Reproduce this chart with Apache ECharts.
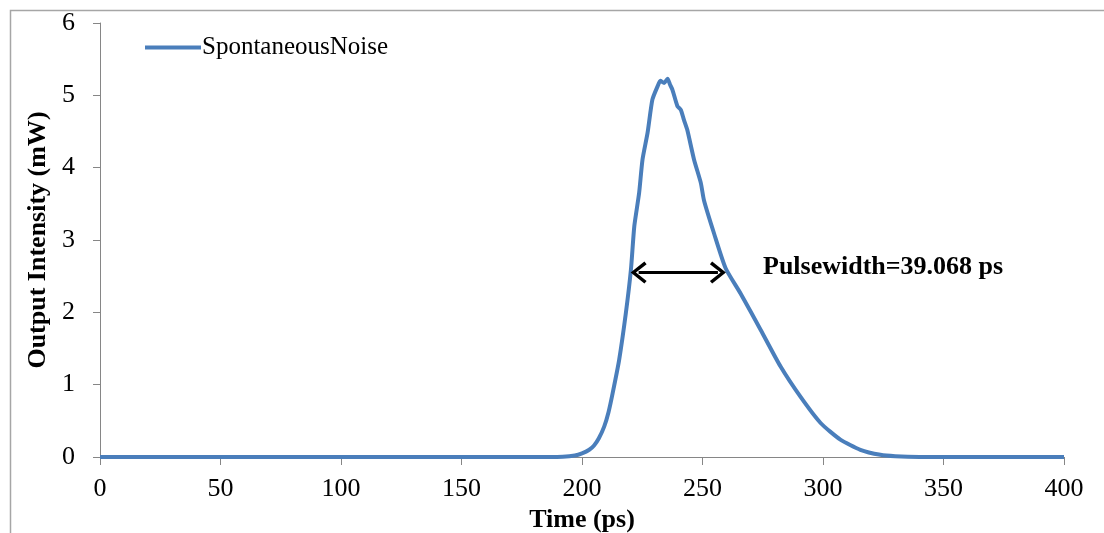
<!DOCTYPE html>
<html>
<head>
<meta charset="utf-8">
<script src="https://cdn.jsdelivr.net/npm/echarts@6/dist/echarts.min.js"></script>
<style>
html,body{margin:0;padding:0;background:#fff;}
#chart{width:1104px;height:533px;}
</style>
</head>
<body>
<div id="chart"></div>
<script>
// Data
const seriesName = 'SpontaneousNoise';
const timePs = [0, 50, 100, 150, 180, 192, 197, 200, 203, 205, 207, 209.2, 211, 212.7, 215.4, 218.2, 220.3, 221.7, 223.7, 225.1, 227.2, 229.2, 231.3, 232.5, 234.1, 235.5, 236.5, 237.5, 239.6, 241, 242.3, 243.7, 246.5, 249.3, 250.6, 254.8, 259.6, 265.8, 274.1, 282.4, 290.7, 299, 307.2, 315.5, 323.8, 330, 340, 350, 375, 400];
const intensity = [0, 0, 0, 0, 0, 0.005, 0.02, 0.05, 0.1, 0.16, 0.26, 0.42, 0.62, 0.88, 1.34, 1.99, 2.59, 3.19, 3.65, 4.11, 4.48, 4.94, 5.12, 5.2, 5.17, 5.23, 5.15, 5.08, 4.85, 4.8, 4.66, 4.52, 4.11, 3.79, 3.55, 3.09, 2.61, 2.26, 1.76, 1.25, 0.83, 0.47, 0.24, 0.1, 0.03, 0.01, 0, 0, 0, 0];
const pulseStart = 220.3, pulseEnd = 259.6, pulseLevel = 2.55;
const pulseText = 'Pulsewidth=39.068 ps';
const xTicks = {min: 0, max: 400, interval: 50};
const yTicks = {min: 0, max: 6, interval: 1};

const arrowInset = 3.2; // half arrow-head length, in ps, so tips touch the curve
const chevron = 'path://M50,0 L100,62 L88,72 L50,24 L12,72 L0,62 Z';
const serif = '"Liberation Serif", "Times New Roman", serif';
const axisGrey = '#868686';

const chart = echarts.init(document.getElementById('chart'));
chart.setOption({
  animation: false,
  backgroundColor: '#fff',
  grid: {left: 100, right: 40, top: 23, bottom: 76, containLabel: false, outerBoundsMode: 'none'},
  legend: {
    left: 145, top: 35, padding: 0,
    icon: 'rect', itemWidth: 56, itemHeight: 4, itemGap: 10,
    textStyle: {fontFamily: serif, fontSize: 25, color: '#000', padding: [0,0,0,-4]},
    data: [seriesName]
  },
  xAxis: {
    type: 'value', min: xTicks.min, max: xTicks.max, interval: xTicks.interval,
    name: 'Time (ps)', nameLocation: 'middle', nameGap: 40,
    nameTextStyle: {fontFamily: serif, fontSize: 26, fontWeight: 'bold', color: '#000'},
    axisLine: {show: true, lineStyle: {color: axisGrey, width: 1}},
    axisTick: {show: true, length: 8, lineStyle: {color: axisGrey}},
    axisLabel: {fontFamily: serif, fontSize: 26, color: '#000', margin: 19},
    splitLine: {show: false}
  },
  yAxis: {
    type: 'value', min: yTicks.min, max: yTicks.max, interval: yTicks.interval,
    name: 'Output Intensity (mW)', nameLocation: 'middle', nameGap: 47, nameRotate: 90,
    nameTextStyle: {fontFamily: serif, fontSize: 26, fontWeight: 'bold', color: '#000'},
    axisLine: {show: true, lineStyle: {color: axisGrey, width: 1}},
    axisTick: {show: true, length: 7, lineStyle: {color: axisGrey}},
    axisLabel: {fontFamily: serif, fontSize: 26, color: '#000', margin: 25},
    splitLine: {show: false}
  },
  graphic: [
    {type: 'rect', left: 8, top: 8, z: -10, silent: true,
     shape: {width: 1200, height: 600},
     style: {fill: 'none', stroke: '#a6a6a6', lineWidth: 1.5}},
    {type: 'text', left: 763, top: 254,
     style: {text: pulseText, font: 'bold 26px ' + serif, fill: '#000'}}
  ],
  series: [{
    name: seriesName,
    type: 'line',
    data: timePs.map((t, i) => [t, intensity[i]]),
    showSymbol: false,
    smooth: 0.2,
    lineStyle: {color: '#4a7ebb', width: 4},
    itemStyle: {color: '#4a7ebb'},
    markLine: {
      silent: true,
      symbol: [chevron, chevron],
      symbolSize: [22, 16],
      label: {show: false},
      lineStyle: {color: '#000', width: 3, type: 'solid'},
      data: [[{coord: [pulseStart + arrowInset, pulseLevel]}, {coord: [pulseEnd - arrowInset, pulseLevel]}]]
    }
  }]
});
</script>
</body>
</html>
